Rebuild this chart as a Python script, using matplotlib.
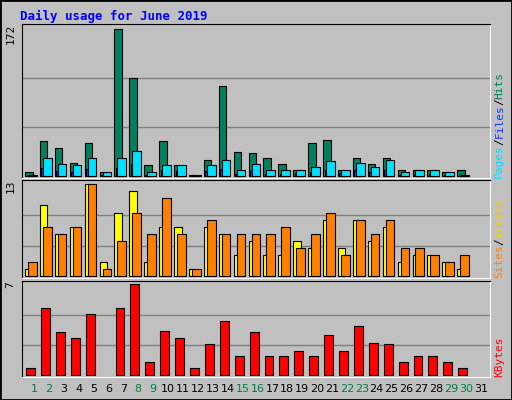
import matplotlib
matplotlib.use("Agg")
import matplotlib.pyplot as plt
from matplotlib.patches import Rectangle

days = list(range(1, 32))
hits = [5, 41, 33, 16, 39, 5, 172, 115, 13, 41, 13, 2, 19, 106, 28, 27, 21, 14, 8, 39,
        43, 8, 21, 14, 22, 8, 8, 7, 5, 7, 0]
files = [2, 22, 14, 13, 22, 5, 22, 30, 5, 13, 13, 2, 13, 19, 7, 14, 7, 7, 8, 11,
         18, 8, 16, 11, 19, 5, 7, 7, 5, 2, 0]
pages = [1, 10, 6, 5, 9, 2, 10, 14, 2, 8, 6, 1, 6, 9, 3, 6, 3, 3, 4, 5,
         8, 4, 7, 5, 8, 2, 3, 3, 2, 1, 0]
visits = [1, 10, 6, 7, 13, 2, 9, 12, 2, 7, 7, 1, 7, 6, 3, 5, 3, 3, 5, 4,
          8, 4, 8, 5, 7, 2, 3, 3, 2, 1, 0]
sites = [2, 7, 6, 7, 13, 1, 5, 9, 6, 11, 6, 1, 8, 6, 6, 6, 6, 7, 4, 6,
         9, 3, 8, 6, 8, 4, 4, 3, 2, 3, 0]
kbytes = [0.54, 5.15, 3.3, 2.85, 4.7, 0, 5.15, 7.0, 1.0, 3.4, 2.85, 0.54, 2.4, 4.2, 1.46, 3.3,
          1.46, 1.46, 1.9, 1.46, 3.1, 1.9, 3.8, 2.5, 2.4, 1.0, 1.46, 1.46, 1.0, 0.54, 0]
weekends = [1, 2, 8, 9, 15, 16, 22, 23, 29, 30]

BG = "#C0C0C0"
W, H = 512, 400
fig = plt.figure(figsize=(W / 100, H / 100), dpi=100)
fig.patch.set_facecolor(BG)
MONO = "DejaVu Sans Mono"

# outer raised border
fig.patches.append(Rectangle((0, 0), 1, 1, transform=fig.transFigure, fill=False,
                             edgecolor="black", linewidth=2))

def panel(y0, y1, ylim, top):
    ax = fig.add_axes([22 / W, 1 - y1 / H, (490 - 22) / W, (y1 - y0) / H])
    ax.set_facecolor(BG)
    ax.set_xlim(0.195, 31.6)
    ax.set_ylim(*ylim)
    for g in (top / 3, 2 * top / 3):
        ax.axhline(g, color="#808080", linewidth=1, zorder=0)
    ax.set_xticks([])
    ax.set_yticks([])
    ax.spines["left"].set_color("black")
    ax.spines["top"].set_color("black")
    ax.spines["right"].set_color("white")
    ax.spines["bottom"].set_color("white")
    ax.text(-0.025, 1.0, str(top), transform=ax.transAxes, rotation=90, ha="center",
            va="top", fontsize=8, family=MONO)
    return ax

bk = dict(edgecolor="black", linewidth=0.8, align="edge")

def bars(ax, offset, vals, width, color):
    pts = [(d + offset, v) for d, v in zip(days, vals) if v > 0]
    ax.bar([p[0] for p in pts], [p[1] for p in pts], width=width, color=color, **bk)

ax1 = panel(24, 178, (-1.9, 178.2), 172)
bars(ax1, -0.6, hits, 0.5, "#008060")
bars(ax1, -0.5, pages, 0.5, "#0040FF")
bars(ax1, -0.4, files, 0.58, "#00E0FF")

ax2 = panel(180, 278, (-0.24, 13.6), 13)
bars(ax2, -0.6, visits, 0.5, "#FFFF00")
bars(ax2, -0.4, sites, 0.58, "#FF8000")

ax3 = panel(281, 377, (-0.13, 7.25), 7)
bars(ax3, -0.53, kbytes, 0.6, "#FF0000")

for d in days:
    ax3.text(d, -0.12, str(d), transform=ax3.get_xaxis_transform(), ha="center", va="center",
             fontsize=8, color="#008040" if d in weekends else "black")

def side(ax, parts):
    hpx = ax.get_position().height * H
    y = 0.0
    for txt, col in parts:
        ax.text(1.02, y, txt, transform=ax.transAxes, rotation=90, ha="center",
                va="bottom", fontsize=8, family=MONO, color=col)
        y += len(txt) * 6.6 / hpx

side(ax1, [("Pages", "#00E0FF"), ("/", "black"), ("Files", "#0040FF"), ("/", "black"), ("Hits", "#008060")])
side(ax2, [("Sites", "#FF8000"), ("/", "black"), ("Visits", "#FFD000")])
side(ax3, [("KBytes", "#FF0000")])

fig.text(20 / W, 1 - 16 / H, "Daily usage for June 2019", color="#0000FF", fontsize=9,
         fontweight="bold", family=MONO, va="center")

fig.savefig("out.png", dpi=100, facecolor=BG)
